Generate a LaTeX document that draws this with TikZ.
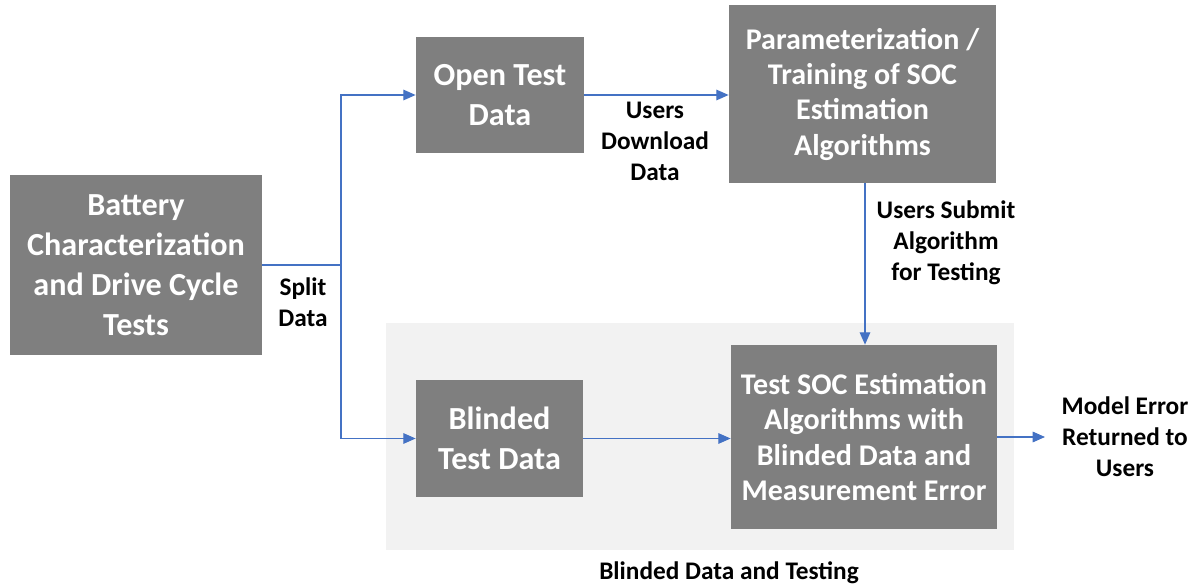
\documentclass[tikz,border=0pt]{standalone}
\usepackage{fontspec}
\setmainfont{Carlito}
\usetikzlibrary{arrows.meta}
\usetikzlibrary{calc}
\definecolor{boxgray}{HTML}{7F7F7F}
\definecolor{linkblue}{HTML}{4472C4}
\definecolor{panelgray}{HTML}{F2F2F2}
\tikzset{
	stage/.style={fill=boxgray,draw=none,text=white,align=center,inner sep=2pt,
		font=\fontsize{18.3}{22.7}\selectfont\bfseries},
	small stage/.style={stage,font=\fontsize{17.1}{20.1}\selectfont\bfseries},
	note/.style={align=center,inner sep=0pt,font=\fontsize{14.4}{17.6}\selectfont\bfseries},
	link/.style={draw=linkblue,line width=0.7pt,-{Triangle[length=7pt,width=6pt]}},
	plain link/.style={draw=linkblue,line width=0.7pt},
}

\begin{document}
\begin{tikzpicture}
		\useasboundingbox (0,0) rectangle (23.84,-11.72);
		% shaded panel round the blinded part
		\fill[panelgray] (7.72,-6.46) rectangle (20.28,-11.00);
		\node[note] (caption) at (14.58,-11.46) {Blinded Data and Testing};
		% boxes
		\node[stage,minimum width=5.04cm,minimum height=3.60cm] (battery) at (2.72,-5.30) {Battery\\Characterization\\and Drive Cycle\\Tests};
		\node[stage,minimum width=3.36cm,minimum height=2.32cm] (open) at (10.00,-1.90) {Open Test\\Data};
		\node[small stage,minimum width=5.34cm,minimum height=3.56cm] (param) at (17.25,-1.88) {Parameterization /\\Training of SOC\\Estimation\\Algorithms};
		\node[stage,minimum width=3.34cm,minimum height=2.34cm] (blinded) at (9.99,-8.77) {Blinded\\Test Data};
		\node[small stage,minimum width=5.32cm,minimum height=3.68cm] (test) at (17.28,-8.74) {Test SOC Estimation\\Algorithms with\\Blinded Data and\\Measurement Error};
		% connectors
		\coordinate (split) at (6.82,-5.30);
		\coordinate (out) at (20.90,-8.74);
		\draw[plain link] (battery.east) -- (split);
		\draw[link] (split) |- (open.west);
		\draw[link] (split) |- (blinded.west);
		\draw[link] (open.east) -- (open.east -| param.west);
		\draw[link] ($(param.south)+(0.05,0)$) -- ($(param.south |- test.north)+(0.05,0)$);
		\draw[link] (blinded.east) -- (blinded.east -| test.west);
		\draw[link] (test.east) -- (out);
		% labels on the connectors
		\node[note] (splitlbl) at (6.06,-6.04) {Split\\Data};
		\node[note] (downlbl) at (13.10,-2.82) {Users\\Download\\Data};
		\node[note] (submitlbl) at (18.92,-4.86) {Users Submit\\Algorithm\\for Testing};
		\node[note] (errorlbl) at (22.50,-8.74) {Model Error\\Returned to\\Users};
	\end{tikzpicture}
\end{document}
